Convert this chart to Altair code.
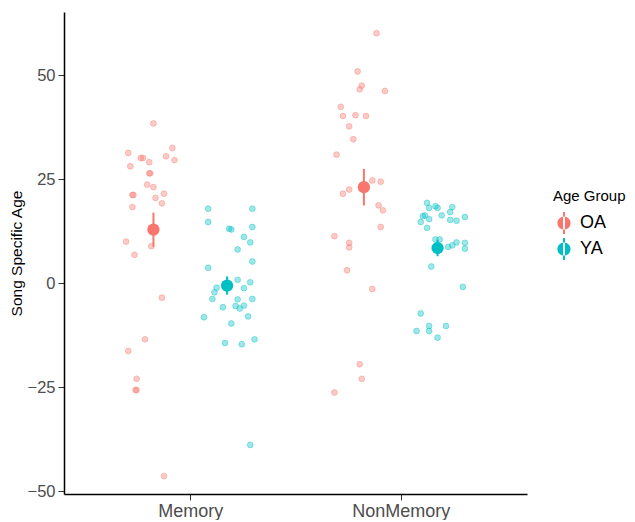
import altair as alt
import pandas as pd

categories = ["Memory", "NonMemory"]
groups = ["OA", "YA"]
colors = ["#F8766D", "#00BFC4"]

memory_oa = [38.4, 31.3, 30.1, 30.1, 32.5, 30.5, 29.6, 28.1, 29.1, 26.4, 26.4, 23.7, 23.1,
             21.5, 21.2, 21.2, 20.5, 19.2, 18.3, 10.0, 8.9, 6.8, -3.5, -13.5, -16.3, -23.0,
             -25.7, -25.7, -46.4]
memory_oa_jitter = [0.00, -0.12, -0.06, -0.05, 0.09, 0.06, 0.10, -0.11, -0.02, -0.02, -0.015,
                    -0.03, 0.00, 0.05, -0.10, -0.095, 0.01, 0.04, -0.10, -0.13, -0.01, -0.09,
                    0.04, -0.04, -0.12, -0.08, -0.08, -0.085, 0.05]

memory_ya = [17.9, 17.9, 14.7, 13.1, 12.9, 13.5, 11.1, 9.8, 8.1, 5.2, 3.7, 0.8, 0.2, -1.1,
             -1.2, -2.2, -3.8, -3.9, -3.8, -5.4, -5.5, -6.1, -5.8, -8.2, -8.0, -9.7, -14.4,
             -14.7, -13.5, -38.9]
memory_ya_jitter = [-0.09, 0.12, -0.09, 0.01, 0.02, 0.12, 0.08, 0.11, 0.05, 0.12, -0.09, 0.05,
                    0.11, -0.05, 0.08, -0.06, -0.07, 0.05, 0.12, 0.08, 0.04, 0.06, -0.02,
                    -0.11, 0.10, 0.02, -0.01, 0.07, 0.13, 0.11]

nonmemory_oa = [60.1, 50.9, 47.5, 46.6, 46.2, 42.4, 40.2, 40.4, 40.2, 37.7, 34.6, 30.9, 24.7,
                24.4, 22.5, 21.5, 18.7, 17.5, 13.5, 11.3, 9.7, 8.6, 3.1, -1.4, -19.5, -23.0,
                -26.3]
nonmemory_oa_jitter = [0.06, -0.03, -0.01, -0.02, 0.10, -0.11, -0.10, -0.04, 0.01, -0.07, -0.05,
                       -0.13, 0.04, 0.08, -0.07, -0.10, 0.07, 0.09, 0.08, -0.14, -0.07, -0.07,
                       -0.08, 0.04, -0.02, -0.01, -0.14]

nonmemory_ya = [19.3, 18.1, 18.5, 18.1, 18.3, 17.1, 16.1, 16.3, 16.3, 15.9, 14.7, 15.4, 15.2,
                15.0, 13.3, 10.5, 10.5, 8.7, 9.1, 9.8, 9.7, 8.3, 4.0, -0.9, -7.3, -10.3, -10.3,
                -11.5, -11.5, -13.1]
nonmemory_ya_jitter = [-0.05, -0.04, -0.01, 0.00, 0.07, 0.06, -0.07, -0.06, 0.02, 0.13, -0.08,
                       -0.04, 0.06, 0.09, -0.05, -0.01, 0.01, 0.05, 0.07, 0.09, 0.13, 0.13,
                       -0.03, 0.12, -0.08, -0.04, 0.04, -0.04, -0.10, 0.00]

DODGE = 0.175
sets = [
    ("Memory", "OA", memory_oa, memory_oa_jitter),
    ("Memory", "YA", memory_ya, memory_ya_jitter),
    ("NonMemory", "OA", nonmemory_oa, nonmemory_oa_jitter),
    ("NonMemory", "YA", nonmemory_ya, nonmemory_ya_jitter),
]
rows = []
for cond, grp, vals, jit in sets:
    base = categories.index(cond) + 1 + (-DODGE if grp == "OA" else DODGE)
    for v, j in zip(vals, jit):
        rows.append({"condition": cond, "group": grp, "value": v, "xc": base, "x": base + j})
df = pd.DataFrame(rows)

color_scale = alt.Scale(domain=groups, range=colors)
x_scale = alt.Scale(domain=[0.4, 2.6], nice=False, zero=False)
y_scale = alt.Scale(domain=[-50.7, 65.2], nice=False, zero=False)
x_axis = alt.Axis(values=[1, 2], title=None,
                  labelExpr="datum.value == 1 ? 'Memory' : 'NonMemory'",
                  labelFontSize=18, labelPadding=2)
y_axis = alt.Axis(values=[-50, -25, 0, 25, 50], title="Song Specific Age",
                  labelFontSize=16.5, titleFontSize=15.5, titlePadding=3, labelPadding=3)

legend_symbol = ("M-0.6,0A0.6,0.6 0 1,0 0.6,0A0.6,0.6 0 1,0 -0.6,0Z"
                 "M-0.09,-1L0.09,-1L0.09,1L-0.09,1Z")
legend = alt.Legend(title="Age Group", orient="none", legendX=489, legendY=177,
                    symbolType=legend_symbol, symbolSize=484, symbolOpacity=1,
                    symbolStrokeWidth=0, titleFontSize=15,
                    labelFontSize=18, titleFontWeight="normal",
                    titleColor="#000000", labelColor="#000000",
                    rowPadding=4, titlePadding=8, labelOffset=5)
color_enc = alt.Color("group:N", scale=color_scale, legend=legend, title="Age Group")

base = alt.Chart(df)

points = base.mark_circle(size=34, fillOpacity=0.38, strokeOpacity=0.38, strokeWidth=1).encode(
    x=alt.X("x:Q", scale=x_scale, axis=x_axis),
    y=alt.Y("value:Q", scale=y_scale, axis=y_axis),
    color=color_enc,
    stroke=alt.Stroke("group:N", scale=color_scale, legend=None),
)

errbars = base.mark_errorbar(extent="stderr", thickness=2).encode(
    x=alt.X("xc:Q", scale=x_scale, axis=x_axis),
    y=alt.Y("value:Q", scale=y_scale, axis=y_axis),
    color=color_enc,
)

means = base.mark_circle(size=150, opacity=1).encode(
    x=alt.X("xc:Q", scale=x_scale, axis=x_axis),
    y=alt.Y("mean(value):Q", scale=y_scale, axis=y_axis),
    color=color_enc,
)

chart = alt.layer(points, errbars, means).properties(
    width=463, height=482,
    autosize=alt.AutoSizeParams(type="none"),
    padding={"left": 56, "top": 4, "right": 100, "bottom": 26},
).configure_view(stroke=None).configure_axis(
    grid=False, domainColor="#000000", domainWidth=1.5, tickColor="#333333", tickWidth=1,
    tickSize=6, labelColor="#4D4D4D", titleColor="#000000", labelFont="Liberation Sans",
    titleFont="Liberation Sans", titleFontWeight="normal",
).configure_legend(labelFont="Liberation Sans", titleFont="Liberation Sans")

chart.save("out.html", embed_options={"renderer": "svg", "actions": False})
